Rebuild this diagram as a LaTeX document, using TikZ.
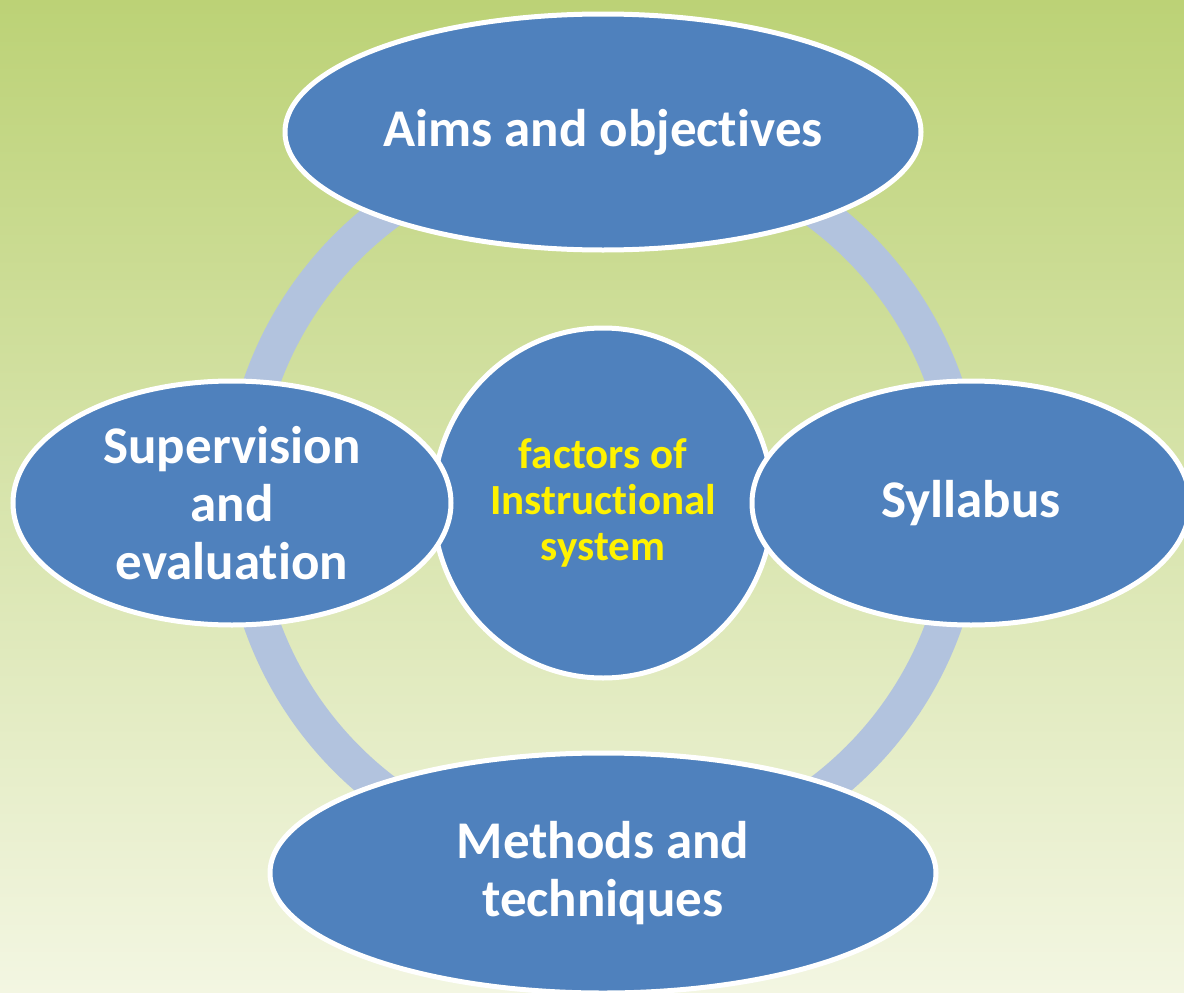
\documentclass[tikz,border=0pt]{standalone}
\usepackage{fontspec}
\setmainfont{Carlito}[Ligatures=NoCommon]
\usepackage{tikz}
\usetikzlibrary{shapes.geometric,positioning}
\definecolor{bblue}{HTML}{4F81BD}
\definecolor{ringc}{HTML}{B2C3DE}
\definecolor{bgtop}{HTML}{BCD276}
\definecolor{bgmid}{HTML}{D3E1A0}
\definecolor{bgbot}{HTML}{F3F6E2}
\tikzset{
    every node/.append style={font=\bfseries},
    bub/.style={ellipse, fill=bblue, draw=white, line width=5pt, text=white,
        inner sep=0pt, align=center, font=\fontsize{53}{58}\selectfont\bfseries}}

\begin{document}
\begin{tikzpicture}[x=1pt,y=-1pt]
    \shade[top color=bgtop, middle color=bgmid, bottom color=bgbot] (0,0) rectangle (1184,993);
    \useasboundingbox (0,0) rectangle (1184,993);

    \coordinate (c) at (603,503);
    \draw[ringc, line width=36pt] (c) circle[radius=362];

    \node[bub, minimum width=340pt, minimum height=350pt, text=yellow,
        font=\fontsize{43}{46}\selectfont\bfseries] (hub) at (c) {factors of\\Instructional\\system};

    \node[bub, minimum width=636pt, minimum height=236pt] (aims) at (603,132) {Aims and objectives};
    \node[bub, minimum width=438pt, minimum height=244pt] (syl) at (971,503) {Syllabus};
    \node[bub, minimum width=666pt, minimum height=240pt] (meth) at (603,873) {Methods and\\techniques};
    \node[bub, minimum width=438pt, minimum height=244pt] (sup) at (232,503) {Supervision\\and\\evaluation};
\end{tikzpicture}
\end{document}
